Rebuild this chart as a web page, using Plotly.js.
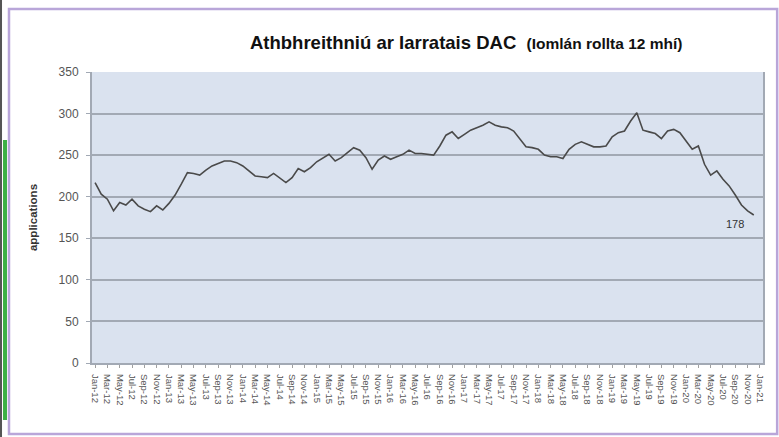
<!DOCTYPE html>
<html>
<head>
<meta charset="utf-8">
<script src="https://cdn.plot.ly/plotly-3.0.1.min.js"></script>
<style>
  html, body { margin: 0; padding: 0; background: #ffffff; }
  #chart { width: 779px; height: 437px; }
</style>
</head>
<body>
<div id="chart"></div>
<script>
// Month names and years used for category labels
const monthNames = ["Jan","Feb","Mar","Apr","May","Jun","Jul","Aug","Sep","Oct","Nov","Dec"];
const years = ["12","13","14","15","16","17","18","19","20","21"];

// Categories: Jan-12 ... Jan-21
const categories = [];
years.forEach(function (y) {
  monthNames.forEach(function (m) {
    if (categories.length < 109) categories.push(m + "-" + y);
  });
});

// Rolling 12-month total of applications (Jan-12 ... Dec-20)
const applications = [
  217, 203, 197, 183, 193, 190, 197, 189, 185, 182, 189, 184,
  192, 202, 215, 229, 228, 226, 232, 237, 240, 243, 243, 241,
  237, 231, 225, 224, 223, 228, 223, 217, 223, 234, 230, 235,
  242, 247, 251, 243, 247, 253, 259, 256, 247, 233, 244, 249,
  245, 248, 251, 256, 252, 252, 251, 250, 261, 274, 278, 270,
  275, 280, 283, 286, 290, 286, 284, 283, 279, 269, 260, 259,
  257, 250, 248, 248, 246, 257, 263, 266, 263, 260, 260, 261,
  272, 277, 279, 291, 301, 280, 278, 276, 270, 279, 281, 277,
  267, 257, 261, 239, 226, 231, 221, 213, 202, 190, 183, 178
];

// Tick labels every second month
const tickLabels = categories.filter(function (c, i) { return i % 2 === 0; });

const titleMain = "Athbhreithniú ar Iarratais DAC";
const titleSub = "(Iomlán rollta 12 mhí)";
const yTitle = "applications";

const xData = categories.slice(0, applications.length);
const lastIdx = applications.length - 1;

const trace = {
  type: "scatter",
  mode: "lines",
  x: xData,
  y: applications,
  line: { color: "#4a4a4a", width: 1.6 },
  hoverinfo: "x+y"
};

const layout = {
  width: 779,
  height: 437,
  margin: { l: 92, r: 16, t: 72, b: 74 },
  paper_bgcolor: "#ffffff",
  plot_bgcolor: "#dae2ef",
  showlegend: false,
  font: { family: "Liberation Sans, Arial, sans-serif", color: "#444444" },
  xaxis: {
    type: "category",
    categoryorder: "array",
    categoryarray: categories,
    range: [-0.5, categories.length - 0.5],
    tickmode: "array",
    tickvals: tickLabels,
    ticktext: tickLabels,
    tickangle: 90,
    tickfont: { size: 9.5, color: "#555555", family: "Liberation Sans, Arial, sans-serif" },
    ticks: "outside",
    ticklen: 3,
    tickcolor: "#a0a0a0",
    ticklabelstandoff: 4,
    showgrid: false,
    showline: true,
    linecolor: "#a2a9b4",
    linewidth: 2,
    mirror: false,
    zeroline: false
  },
  yaxis: {
    range: [0, 350],
    tickvals: [0, 50, 100, 150, 200, 250, 300, 350],
    tickfont: { size: 12, color: "#555555" },
    ticks: "outside",
    ticklen: 4,
    tickcolor: "#a2a9b4",
    ticklabelstandoff: 5,
    showgrid: true,
    gridcolor: "#a2a9b4",
    gridwidth: 2,
    showline: true,
    linecolor: "#a2a9b4",
    linewidth: 2,
    mirror: true,
    zeroline: false,
    title: { text: "<b>" + yTitle + "</b>", font: { size: 11.5, color: "#333333" }, standoff: 19 }
  },
  annotations: [
    {
      xref: "paper", yref: "paper",
      x: 0.2325, y: 1.0997,
      xanchor: "left", yanchor: "middle",
      showarrow: false,
      text: "<b>" + titleMain + "</b>  <span style='font-size:15.5px'><b>" + titleSub + "</b></span>",
      font: { size: 18.5, color: "#111111", family: "Liberation Sans, Arial, sans-serif" }
    },
    {
      xref: "x", yref: "y",
      x: xData[lastIdx], y: applications[lastIdx],
      xshift: -19, yshift: -9,
      showarrow: false,
      text: String(applications[lastIdx]),
      font: { size: 11, color: "#333333" }
    }
  ],
  shapes: [
    {
      type: "rect", xref: "paper", yref: "paper",
      x0: -0.1237, x1: 1.0211, y0: -0.2440, y1: 1.2165,
      line: { color: "#b9a6d9", width: 2.5 },
      fillcolor: "rgba(0,0,0,0)", layer: "below"
    },
    {
      type: "rect", xref: "paper", yref: "paper",
      x0: -0.1371, x1: -0.1341, y0: -0.2543, y1: 1.2474,
      line: { width: 0 },
      fillcolor: "#555555", layer: "below"
    },
    {
      type: "rect", xref: "paper", yref: "paper",
      x0: -0.1326, x1: -0.1267, y0: -0.1959, y1: 0.7663,
      line: { width: 0 },
      fillcolor: "#3cb043", layer: "below"
    }
  ]
};

Plotly.newPlot("chart", [trace], layout, { displayModeBar: false, staticPlot: true });
</script>
</body>
</html>
